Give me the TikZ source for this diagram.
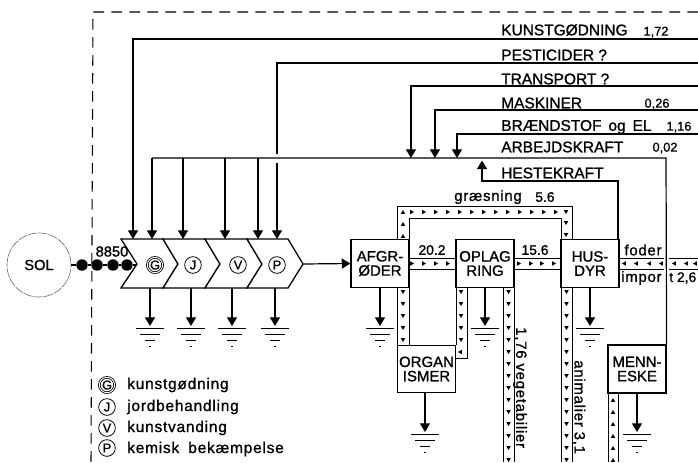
\documentclass[tikz,border=0pt]{standalone}
\usepackage{fontspec}
\usetikzlibrary{arrows.meta}
\setmainfont{Liberation Sans}[FakeBold=1.1]
\newcommand{\tR}[2]{\fill (#1,#2) ++(-1.8,-2.2) -- ++(3.8,2.2) -- ++(-3.8,2.2) -- cycle;}
\newcommand{\tL}[2]{\fill (#1,#2) ++(1.8,-2.2) -- ++(-3.8,2.2) -- ++(3.8,2.2) -- cycle;}
\newcommand{\tD}[2]{\fill (#1,#2) ++(-2.2,-1.8) -- ++(2.2,3.8) -- ++(2.2,-3.8) -- cycle;}
\newcommand{\tU}[2]{\fill (#1,#2) ++(-2.2,1.8) -- ++(2.2,-3.8) -- ++(2.2,3.8) -- cycle;}
\newcommand{\gnd}[2]{%
  \draw[gline] (#1-14,#2) -- (#1+14,#2);
  \draw[gline] (#1-10,#2+6) -- (#1+10,#2+6);
  \draw[gline] (#1-5,#2+12) -- (#1+5,#2+12);
  \draw[gline] (#1-1,#2+18) -- (#1+1,#2+18);}
\newcommand{\sz}[1]{\fontsize{#1}{#1}\selectfont}
\newcommand{\szs}[1]{\fontsize{#1}{#1}\selectfont\addfontfeature{LetterSpace=5}}
\tikzset{
  x=.75pt,y=-.75pt,
  flow/.style={line width=.9pt},
  arr/.style={flow,-{Triangle[width=7.5pt,length=6.5pt]}},
  band/.style={line width=.6pt},
  gline/.style={line width=.75pt},
  boxn/.style={draw,line width=.85pt,fill=white,minimum width=43.5pt,minimum height=35.5pt,inner sep=0pt,align=center,font=\sz{11.2}},
  lab/.style={anchor=west,inner sep=0pt,font=\sz{11.6}},
  num/.style={inner sep=0pt,font=\sz{9.6}},
  band label/.style={inner sep=0pt,font=\sz{10.4}},
  band text/.style={inner sep=0pt,font=\szs{11.2}},
  circ/.style={draw,circle,line width=.6pt,fill=white,minimum size=12.5pt,inner sep=0pt,font=\sz{9.6}},
  circd/.style={circ,double,double distance=.7pt,minimum size=11.5pt},
  dotn/.style={circle,fill,minimum size=8.6pt,inner sep=0pt},
  legend/.style={anchor=west,inner sep=0pt,font=\szs{11.6}},
}
\begin{document}
\begin{tikzpicture}
\useasboundingbox (0,0) rectangle (698,462);
% frame
\draw[line width=.8pt,dash pattern=on 8pt off 5.5pt] (698,12) -- (93,12) -- (91,462);
% input lines
\coordinate (kE) at (698,39); \coordinate (pE) at (698,63);
\coordinate (tE) at (698,86); \coordinate (mE) at (698,110);
\coordinate (bE) at (698,134);
\coordinate (ch1) at (133,239); \coordinate (ch2) at (152,239);
\coordinate (ch3) at (183,239); \coordinate (ch4) at (225,239);
\coordinate (ch5) at (258,239); \coordinate (ch6) at (277,239);
\coordinate (ch7) at (277,154); \coordinate (ch8) at (277,163);
\coordinate (bus) at (411,158); \coordinate (bus2) at (435,158);
\coordinate (bus3) at (457,158); \coordinate (bus4) at (482,160.5);
\draw[arr] (kE) -- (133,39) -- (ch1);
\draw[flow] (pE) -- (277,63) -- (ch7);
\draw[arr] (ch8) -- (ch6);
\draw[arr] (tE) -- (411,86) -- (bus);
\draw[arr] (mE) -- (435,110) -- (bus2);
\draw[arr] (bE) -- (457,134) -- (bus3);
\node[boxn,minimum width=43.5pt,minimum height=36pt] (men) at (637,369) {MENN-\\[-.5pt]ESKE};
\node[boxn] (hus) at (590,263.5) {HUS-\\[-.5pt]DYR};
\draw[flow] (men.north east) -- (666,158) -- (152,158);
\draw[arr] (152,158) -- (ch2);
\draw[arr] (183,158) -- (ch3);
\draw[arr] (225,158) -- (ch4);
\draw[arr] (258,158) -- (ch5);
\draw[arr] (618,240) -- (618,181) -- (482,181) -- (bus4);
% chevrons
\draw[line width=.95pt,fill=white] (121,239) -- (163,239) -- (178,264) -- (163,288) -- (121,288) -- (137,264) -- cycle;
\draw[line width=.95pt,fill=white] (163,239) -- (205,239) -- (220,264) -- (205,288) -- (163,288) -- (178,264) -- cycle;
\draw[line width=.95pt,fill=white] (205,239) -- (247,239) -- (262,264) -- (247,288) -- (205,288) -- (220,264) -- cycle;
\draw[line width=.95pt,fill=white] (247,239) -- (288,239) -- (303,264) -- (288,288) -- (247,288) -- (262,264) -- cycle;
\node[circd] (G) at (155,265) {G};
\node[circ] (J) at (193,265) {J};
\node[circ] (V) at (238,265) {V};
\node[circ] (P) at (277,265) {P};
% sun
\node[draw=black!60,circle,line width=.45pt,dash pattern=on 7pt off .8pt,minimum size=48pt,inner sep=0pt,font=\sz{11}] (sol) at (39,265) {SOL};
\node[dotn] (d1) at (82,265) {};
\node[dotn] (d2) at (97,265) {};
\node[dotn] (d3) at (113,265) {};
\node[dotn] (d4) at (127,265) {};
\draw[line width=1.4pt] (sol) -- (d1) -- (d2) -- (d3) -- (d4) -- (137,265);
\node[inner sep=0pt,font=\sz{11}] at (112,251.5) {8850};
% chevron losses
\coordinate (cd1) at (150,288); \coordinate (cd2) at (191,288);
\coordinate (cd3) at (232,288); \coordinate (cd4) at (275,288);
\coordinate (go1) at (150,326); \coordinate (go2) at (191,326);
\coordinate (go3) at (232,326); \coordinate (go4) at (275,326);
\draw[arr] (cd1) -- (go1); \gnd{150}{328}
\draw[arr] (cd2) -- (go2); \gnd{191}{328}
\draw[arr] (cd3) -- (go3); \gnd{232}{328}
\draw[arr] (cd4) -- (go4); \gnd{275}{328}
% boxes
\node[boxn] (afg) at (380,263.5) {AFGR-\\[-.5pt]ØDER};
\node[boxn] (opl) at (485,263.5) {OPLAG\\[-.5pt]RING};
\node[boxn] (org) at (426.5,369) {ORGAN\\[-.5pt]ISMER};
\draw[arr] (303,264) -- (afg.west);
% bands
\draw[band] (397,240) -- (397,206) -- (572,206) -- (572,240);
\draw[band] (409,240) -- (409,218) -- (561,218) -- (561,240);
\foreach \x in {412,424,436,448,460,472,484,496,508,520,532,544,556} {\tR{\x}{212}}
\tU{403}{212} \tU{403}{224} \tU{403}{236}
\tD{566}{212} \tD{566}{223} \tD{566}{235}
\draw[band] (afg.east |- 0,258) -- (456,258) (afg.east |- 0,269) -- (456,269);
\foreach \x in {412,424,436,448} {\tR{\x}{263.5}}
\draw[band] (514,258) -- (561,258) (514,269) -- (561,269);
\foreach \x in {519,531,542,554} {\tR{\x}{263.5}}
\draw[band] (619,258) -- (664,258) (619,269) -- (664,269);
\draw[band] (669,258) -- (698,258) (669,269) -- (698,269);
\foreach \x in {624,636,649,661,674,686,695} {\tL{\x}{263.5}}
\draw[band] (397,287) -- (397,345) (409,287) -- (409,345);
\foreach \y in {292,304,316,328,340} {\tD{403}{\y}}
\draw[band] (456,287) -- (456,345) (467,287) -- (467,358) -- (456,358);
\foreach \y in {292,304,316,328,340} {\tD{461}{\y}}
\tL{460}{352}
\draw[band] (503,287) -- (503,462) (514,287) -- (514,462);
\foreach \y in {292,304,...,460} {\tD{508.5}{\y}}
\draw[band] (561,287) -- (561,462) (572,287) -- (572,462);
\foreach \y in {292,304,...,460} {\tD{566.5}{\y}}
\draw[band] (608,393) -- (608,462) (618.5,393) -- (618.5,462);
\foreach \y in {400,412,...,460} {\tU{613}{\y}}
% losses from boxes
\coordinate (ga) at (380,326); \coordinate (go) at (485,326);
\coordinate (gh) at (590,326); \coordinate (gr) at (425,432);
\coordinate (gm) at (637,432);
\draw[arr] (afg.south) -- (ga); \gnd{380}{328}
\draw[arr] (opl.south) -- (go); \gnd{485}{328}
\draw[arr] (hus.south) -- (gh); \gnd{590}{328}
\draw[arr] (org.south -| gr) -- (gr); \gnd{425}{434}
\draw[arr] (men.south) -- (gm); \gnd{637}{434}
% labels
\node[lab] (l1) at (501,30) {KUNSTGØDNING};
\node[lab] (l2) at (501,55) {PESTICIDER ?};
\node[lab] (l3) at (501,79) {TRANSPORT ?};
\node[lab] (l4) at (501,103) {MASKINER};
\node[lab] (l5) at (501,127) {BRÆNDSTOF\hspace{2pt} og\hspace{2pt} EL};
\node[lab] (l6) at (501,147) {ARBEJDSKRAFT};
\node[lab] (l7) at (501,173) {HESTEKRAFT};
\node[num] at (656,32) {1,72};
\node[num] at (657,104) {0,26};
\node[num] at (679,127) {1,16};
\node[num] at (665,148) {0,02};
\node[band text,anchor=west] at (454,197) {græsning};
\node[band label,anchor=west] at (535,197) {5.6};
\node[band label] at (432,250) {20.2};
\node[band label] at (535,250) {15.6};
\node[band text] at (643,250) {foder};
\node[band text,anchor=west] at (621,278) {impor};
\node[band label,anchor=west] at (669,278) {t 2,6};
\node[band text,rotate=-90,anchor=west] at (520,327) {1,76 vegetabilier};
\node[band text,rotate=-90,anchor=west] at (579,360) {animalier 3,1};
% legend
\node[circd] (lg) at (107,385) {G};
\node[circ] (lj) at (107,407) {J};
\node[circ] (lv) at (107,428) {V};
\node[circ] (lp) at (107,448) {P};
\node[legend] at (127,385) {kunstgødning};
\node[legend] at (127,407) {jordbehandling};
\node[legend] at (127,428) {kunstvanding};
\node[legend] at (127,449) {kemisk\hspace{3pt} bekæmpelse};
\end{tikzpicture}
\end{document}
